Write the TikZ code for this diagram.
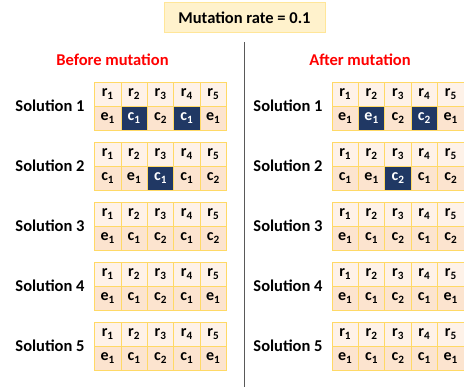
\documentclass[tikz,border=0pt]{standalone}
\usepackage{fontspec}
\setmainfont{Carlito}
\definecolor{cellgold}{HTML}{FFD966}
\definecolor{celltop}{HTML}{FEF2E8}
\definecolor{cellbot}{HTML}{FCE4CF}
\definecolor{celldark}{HTML}{203864}
\definecolor{ratefill}{HTML}{FFF2CC}
\definecolor{rateline}{HTML}{FFE699}
\tikzset{
  cell/.style={draw=cellgold,line width=0.8pt,minimum width=26.4pt,minimum height=24pt,
    inner sep=0pt,outer sep=0pt,font=\fontsize{16}{18}\selectfont\bfseries},
  hi/.style={cell,fill=celltop},
  lo/.style={cell,fill=cellbot},
  dk/.style={cell,fill=celldark,text=white},
  sol/.style={font=\fontsize{16.5}{19}\selectfont\bfseries},
  title/.style={font=\fontsize{16.5}{19}\selectfont\bfseries,text=red}
}
\begin{document}
\begin{tikzpicture}[x=1pt,y=-1pt]
\useasboundingbox (0,0) rectangle (464,391);
\node[sol,draw=rateline,line width=1pt,fill=ratefill,minimum width=161pt,minimum height=30pt] (rate) at (244.5,17.5) {Mutation rate = 0.1};
\node[title] (before) at (112.5,60) {Before mutation};
\node[title] (after) at (360,60) {After mutation};
\coordinate (divtop) at (244.5,42);
\coordinate (divbot) at (244.5,387);
\draw[line width=1.5pt,black!65] (divtop) -- (divbot);
% solution labels and r rows
\foreach \s in {1,...,5} {
  \node[sol] (bl\s) at (50,{106+60*(\s-1)}) {Solution \s};
  \node[sol] (al\s) at (288,{106+60*(\s-1)}) {Solution \s};
  \foreach \i in {1,...,5} {
    \node[hi] (b\s r\i) at ({94.5+26.4*(\i-0.5)},{94+60*(\s-1)}) {r\textsubscript{\i}};
    \node[hi] (a\s r\i) at ({332+26.4*(\i-0.5)},{94+60*(\s-1)}) {r\textsubscript{\i}};
  }
}
% before mutation
\foreach \g/\n/\st [count=\i] in {e/1/lo,c/1/dk,c/2/lo,c/1/dk,e/1/lo}
  \node[\st] (b1g\i) at ({94.5+26.4*(\i-0.5)},118) {\g\textsubscript{\n}};
\foreach \g/\n/\st [count=\i] in {c/1/lo,e/1/lo,c/1/dk,c/1/lo,c/2/lo}
  \node[\st] (b2g\i) at ({94.5+26.4*(\i-0.5)},178) {\g\textsubscript{\n}};
\foreach \g/\n [count=\i] in {e/1,c/1,c/2,c/1,c/2}
  \node[lo] (b3g\i) at ({94.5+26.4*(\i-0.5)},238) {\g\textsubscript{\n}};
\foreach \g/\n [count=\i] in {e/1,c/1,c/2,c/1,e/1}
  \node[lo] (b4g\i) at ({94.5+26.4*(\i-0.5)},298) {\g\textsubscript{\n}};
\foreach \g/\n [count=\i] in {e/1,c/1,c/2,c/1,e/1}
  \node[lo] (b5g\i) at ({94.5+26.4*(\i-0.5)},358) {\g\textsubscript{\n}};
% after mutation
\foreach \g/\n/\st [count=\i] in {e/1/lo,e/1/dk,c/2/lo,c/2/dk,e/1/lo}
  \node[\st] (a1g\i) at ({332+26.4*(\i-0.5)},118) {\g\textsubscript{\n}};
\foreach \g/\n/\st [count=\i] in {c/1/lo,e/1/lo,c/2/dk,c/1/lo,c/2/lo}
  \node[\st] (a2g\i) at ({332+26.4*(\i-0.5)},178) {\g\textsubscript{\n}};
\foreach \g/\n [count=\i] in {e/1,c/1,c/2,c/1,c/2}
  \node[lo] (a3g\i) at ({332+26.4*(\i-0.5)},238) {\g\textsubscript{\n}};
\foreach \g/\n [count=\i] in {e/1,c/1,c/2,c/1,e/1}
  \node[lo] (a4g\i) at ({332+26.4*(\i-0.5)},298) {\g\textsubscript{\n}};
\foreach \g/\n [count=\i] in {e/1,c/1,c/2,c/1,e/1}
  \node[lo] (a5g\i) at ({332+26.4*(\i-0.5)},358) {\g\textsubscript{\n}};
\end{tikzpicture}
\end{document}
